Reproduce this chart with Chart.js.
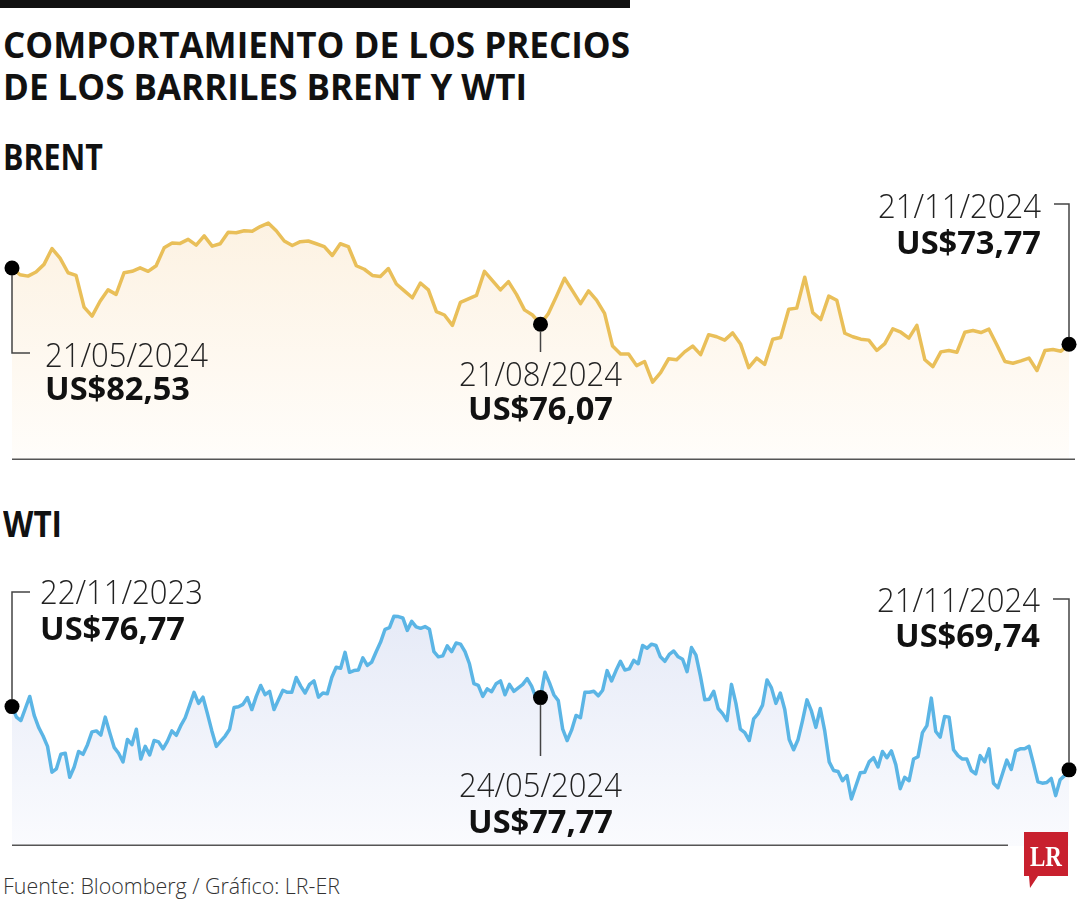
<!DOCTYPE html>
<html lang="es">
<head>
<meta charset="utf-8">
<title>Comportamiento de los precios de los barriles Brent y WTI</title>
<script src="https://cdn.jsdelivr.net/npm/chart.js@4.4.1/dist/chart.umd.min.js"></script>
<style>
  html, body { margin: 0; padding: 0; background: #fff; }
  body { width: 1080px; height: 900px; position: relative; overflow: hidden; font-family: 'Open Sans', sans-serif; color: #111; }
  .barra { position: absolute; left: 0; top: 0; width: 630px; height: 8px; background: #111; }
  .ajuste { position: absolute; left: 3px; white-space: nowrap; transform-origin: 0 0; }
  .titulo { font-size: 35px; line-height: 35px; font-weight: 700; }
  .fuente { font-size: 22px; line-height: 22px; font-weight: 300; color: #333; }
  canvas { position: absolute; left: 0; }
  .logo { position: absolute; left: 1022px; top: 831px; }
</style>
</head>
<body>
<div class="barra"></div>
<div class="ajuste titulo" style="top:27px" data-w="627">COMPORTAMIENTO DE LOS PRECIOS</div>
<div class="ajuste titulo" style="top:69px" data-w="524">DE LOS BARRILES BRENT Y WTI</div>
<div class="ajuste titulo" style="top:139px" data-w="100">BRENT</div>
<div class="ajuste titulo" style="top:506px" data-w="59">WTI</div>

<canvas id="brent" width="1080" height="280" style="top:180px"></canvas>
<canvas id="wti" width="1080" height="286" style="top:560px"></canvas>

<div class="ajuste fuente" style="top:874px" data-w="337">Fuente: Bloomberg / Gráfico: LR-ER</div>
<svg class="logo" width="50" height="60" viewBox="0 0 50 60">
  <path d="M2 1 H46 V45 H16 L8 57 L7 45 H2 Z" fill="#c8202e"/>
  <text x="24" y="35" text-anchor="middle" font-family="'Liberation Serif', serif" font-weight="bold" font-size="29" fill="#fff" textLength="32" lengthAdjust="spacingAndGlyphs">LR</text>
</svg>

<script>
// Brent: 21/05/2024 - 21/11/2024 (US$ por barril)
const brentPrecios = [
  82.53, 81.76, 81.60, 82.07, 82.95, 84.77, 83.66, 81.99, 81.68, 78.04,
  77.01, 78.71, 80.02, 79.50, 81.99, 82.15, 82.55, 82.15, 82.79, 84.85,
  85.40, 85.36, 85.83, 85.16, 86.23, 85.04, 85.32, 86.63, 86.59, 86.82,
  86.75, 87.30, 87.70, 86.82, 85.64, 85.12, 85.56, 85.64, 85.32, 85.00,
  83.97, 85.32, 85.00, 82.79, 82.39, 81.68, 81.56, 82.47, 80.69, 79.90,
  79.11, 80.81, 80.02, 77.52, 77.13, 75.94, 78.59, 78.99, 79.38, 82.15,
  81.08, 80.02, 80.97, 79.50, 77.72, 77.13, 76.07,
  77.32, 79.30, 81.36, 79.90, 78.43, 79.90, 78.83, 77.32, 73.56, 72.65,
  72.65, 71.31, 71.78, 69.41, 70.51, 72.10, 71.98, 72.89, 73.56, 72.57,
  74.87, 74.63, 74.24, 75.07, 73.76, 71.07, 72.18, 71.46, 74.35, 74.55,
  77.80, 77.92, 81.48, 77.40, 76.61, 79.30, 78.83, 75.03, 74.63, 74.35,
  74.24, 73.05, 73.84, 75.54, 75.15, 74.47, 75.94, 71.98, 71.19, 72.89,
  73.05, 72.85, 75.15, 75.34, 75.11, 75.50, 73.68, 71.78, 71.58, 71.86,
  72.18, 70.75, 73.05, 73.17, 72.97, 73.77
];
const brentMarcas = [0, 66, 132];
const brentFechas = ['21/05/2024', '21/08/2024', '21/11/2024'];
const brentValores = ['US$82,53', 'US$76,07', 'US$73,77'];

// WTI: 22/11/2023 - 21/11/2024
const wtiPrecios = [
  76.77, 75.60, 75.22, 76.56, 77.90, 75.79, 74.46, 73.50, 72.35, 69.48,
  69.86, 71.47, 71.59, 68.91, 70.06, 71.78, 71.47, 72.54, 73.96, 74.07,
  73.61, 75.60, 73.88, 72.24, 71.59, 70.63, 73.12, 72.54, 74.26, 70.94,
  72.35, 71.39, 73.00, 72.85, 72.08, 72.93, 74.07, 73.58, 74.65, 75.53,
  76.94, 78.36, 77.13, 77.82, 75.99, 74.07, 72.35, 72.93, 73.50, 74.26,
  76.67, 76.75, 77.02, 77.78, 76.44, 77.90, 79.12, 78.09, 78.47, 76.44,
  77.52, 78.59, 78.36, 78.36, 80.00, 79.05, 78.28, 79.24, 79.62, 77.82,
  78.28, 78.20, 80.00, 81.15, 81.04, 82.80, 80.58, 80.77, 80.84, 82.18,
  81.34, 81.72, 82.87, 83.94, 85.36, 85.55, 86.81, 86.77, 86.62, 85.24,
  86.24, 85.63, 85.47, 85.66, 85.36, 82.87, 82.30, 82.41, 83.52, 82.87,
  83.83, 83.71, 82.87, 81.53, 79.31, 79.12, 77.90, 78.74, 78.43, 79.31,
  79.62, 78.09, 79.24, 78.47, 78.85, 79.24, 79.89, 79.05, 77.71, 77.77,
  80.58, 79.43, 78.09, 77.44, 74.26, 73.00, 74.15, 75.79, 75.53, 78.36,
  78.36, 78.47, 77.97, 78.59, 80.77, 79.62, 80.77, 81.80, 80.84, 80.96,
  81.92, 81.53, 83.56, 83.25, 83.71, 83.56, 82.30, 81.80, 82.57, 82.95,
  82.30, 82.03, 80.65, 83.33, 82.49, 80.19, 77.52, 77.59, 78.47, 76.56,
  75.99, 75.22, 79.24, 77.13, 74.26, 73.88, 73.00, 75.41, 75.99, 76.94,
  79.73, 78.85, 77.13, 78.28, 76.44, 73.12, 71.97, 73.12, 75.22, 77.52,
  76.29, 74.46, 76.56, 74.07, 70.63, 69.67, 69.56, 68.53, 69.10, 66.50,
  67.95, 69.41, 69.48, 70.63, 71.09, 70.06, 71.78, 71.09, 71.85, 70.32,
  67.65, 68.91, 68.53, 70.94, 71.20, 73.88, 74.65, 77.71, 74.00, 73.38,
  75.68, 75.60, 71.97, 71.32, 70.94, 70.94, 69.67, 69.29, 71.32, 70.63,
  72.08, 68.26, 67.76, 69.29, 70.82, 69.79, 71.85, 72.08, 72.08, 72.35,
  70.44, 68.41, 68.26, 68.33, 68.79, 66.88, 68.64, 69.10, 69.74
];
const wtiMarcas = [0, 119, 238];
const wtiFechas = ['22/11/2023', '24/05/2024', '21/11/2024'];
const wtiValores = ['US$76,77', 'US$77,77', 'US$69,74'];

// Posición de los textos de cada marca (relativa al punto y al área del gráfico)
const brentDisposicion = [
  { yLinea: 173, dxLinea: 18, align: 'left', dxTexto: 33, yFecha: 187, yValor: 220 },
  { yLinea: 172, dxLinea: 0, align: 'center', dxTexto: 0, yFecha: 206, yValor: 240 },
  { yLinea: 24, dxLinea: -15, align: 'right', dxTexto: -28, yFecha: 38, yValor: 74 }
];
const wtiDisposicion = [
  { yLinea: 32, dxLinea: 18, align: 'left', dxTexto: 28, yFecha: 44, yValor: 80 },
  { yLinea: 196, dxLinea: 0, align: 'center', dxTexto: 0, yFecha: 237, yValor: 273 },
  { yLinea: 39, dxLinea: -16, align: 'right', dxTexto: -29, yFecha: 52, yValor: 87 }
];

// Escribe un texto forzando su ancho final
function textoAjustado(ctx, texto, x, y, ancho, align) {
  const w = ctx.measureText(texto).width;
  ctx.save();
  ctx.translate(x, y);
  ctx.scale(ancho / w, 1);
  ctx.textAlign = align;
  ctx.fillText(texto, 0, 0);
  ctx.restore();
}

const anotaciones = {
  id: 'anotaciones',
  afterDatasetsDraw(chart, args, opts) {
    const { ctx, chartArea } = chart;
    const puntos = chart.getDatasetMeta(0).data;
    ctx.save();

    // línea base
    ctx.strokeStyle = '#555';
    ctx.lineWidth = 1.5;
    ctx.beginPath();
    ctx.moveTo(chartArea.left, chartArea.bottom - 0.75);
    ctx.lineTo(opts.finBase, chartArea.bottom - 0.75);
    ctx.stroke();

    opts.marcas.forEach((i, k) => {
      const p = puntos[i];
      const d = opts.disposicion[k];
      const yFin = chartArea.top + d.yLinea;
      const signo = yFin > p.y ? 1 : -1;

      // línea guía
      ctx.strokeStyle = '#444';
      ctx.lineWidth = 1.5;
      ctx.beginPath();
      ctx.moveTo(p.x, p.y + signo * 7);
      ctx.lineTo(p.x, yFin);
      if (d.dxLinea) ctx.lineTo(p.x + d.dxLinea, yFin);
      ctx.stroke();

      // textos
      const x = p.x + d.dxTexto;
      ctx.fillStyle = '#222';
      ctx.font = '300 33px "Open Sans", sans-serif';
      textoAjustado(ctx, opts.fechas[k], x, chartArea.top + d.yFecha, 163, d.align);
      ctx.fillStyle = '#111';
      ctx.font = 'bold 32px "Open Sans", sans-serif';
      textoAjustado(ctx, opts.valores[k], x, chartArea.top + d.yValor, 145, d.align);
    });
    ctx.restore();
  }
};

function crearGrafico(id, precios, marcas, fechas, valores, disposicion, color, rellenoArriba, rellenoAbajo, yMin, yMax, finBase) {
  return new Chart(document.getElementById(id), {
    type: 'line',
    data: {
      labels: precios.map((_, i) => i),
      datasets: [{
        data: precios,
        borderColor: color,
        borderWidth: 3.5,
        borderJoinStyle: 'round',
        tension: 0,
        fill: 'start',
        clip: false,
        backgroundColor: c => {
          const area = c.chart.chartArea;
          if (!area) return rellenoArriba;
          const g = c.chart.ctx.createLinearGradient(0, area.top, 0, area.bottom);
          g.addColorStop(0, rellenoArriba);
          g.addColorStop(1, rellenoAbajo);
          return g;
        },
        pointRadius: c => marcas.includes(c.dataIndex) ? 7.5 : 0,
        pointHoverRadius: c => marcas.includes(c.dataIndex) ? 7.5 : 0,
        pointBackgroundColor: '#000',
        pointBorderWidth: 0
      }]
    },
    options: {
      responsive: false,
      animation: false,
      events: [],
      layout: { autoPadding: false, padding: { left: 12, right: 11, top: 0, bottom: 0 } },
      scales: {
        x: { display: false },
        y: { display: false, min: yMin, max: yMax }
      },
      plugins: {
        legend: { display: false },
        tooltip: { enabled: false },
        anotaciones: { marcas, fechas, valores, disposicion, finBase }
      }
    },
    plugins: [anotaciones]
  });
}

function ajustarAncho() {
  document.querySelectorAll('[data-w]').forEach(el => {
    const w = el.getBoundingClientRect().width;
    el.style.transform = `scaleX(${+el.dataset.w / w})`;
  });
}

ajustarAncho();
crearGrafico('brent', brentPrecios, brentMarcas, brentFechas, brentValores, brentDisposicion,
  '#e9bf59', '#fcf0de', '#fffdfa', 60.46, 92.65, 1075);
crearGrafico('wti', wtiPrecios, wtiMarcas, wtiFechas, wtiValores, wtiDisposicion,
  '#5bb5e5', '#e1e6f5', '#fafbfe', 61.28, 93.06, 1008);
</script>
</body>
</html>
